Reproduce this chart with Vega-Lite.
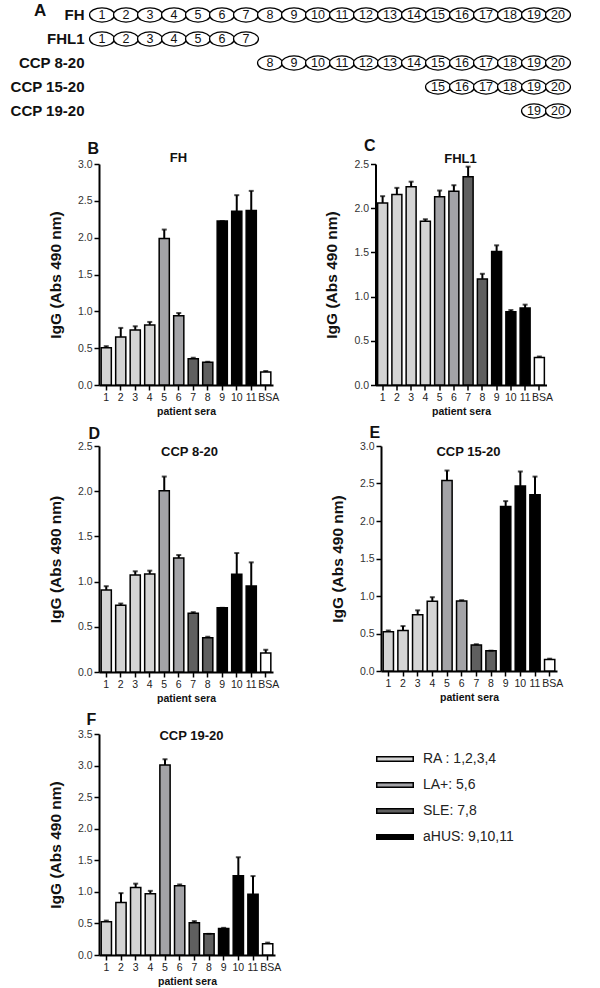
{
  "$schema": "https://vega.github.io/schema/vega-lite/v6.json",
  "padding": {"left": 10, "top": 0, "right": 0, "bottom": 0},
  "spacing": 7,
  "resolve": {"scale": {"color": "independent"}},
  "config": {
    "font": "Liberation Sans",
    "view": {"stroke": null},
    "axisY": {"domainColor": "black", "domainWidth": 2, "tickColor": "black", "tickWidth": 1.5, "tickSize": 5, "labelFont": "Liberation Sans", "labelFontSize": 10.5, "labelColor": "#333", "labelPadding": 2, "minExtent": 24, "maxExtent": 24, "titleFont": "Liberation Sans", "titleFontSize": 15.5, "titleFontWeight": "bold", "titleColor": "#111", "titlePadding": 12, "grid": false},
    "axisBottom": {"domainColor": "black", "domainWidth": 2, "tickColor": "black", "tickWidth": 1.5, "tickSize": 5, "labelFont": "Liberation Sans", "labelFontSize": 10.5, "labelColor": "#222", "labelPadding": 2, "labelAngle": 0, "labelOffset": {"condition": {"test": "datum.label == 'BSA'", "value": 3}, "value": 0}, "titleFont": "Liberation Sans", "titleFontSize": 10.5, "titleFontWeight": "bold", "titleColor": "#111", "titlePadding": 4, "grid": false},
    "axisTop": {"domain": false, "ticks": false, "labels": false, "grid": false, "titleFont": "Liberation Sans", "titleFontWeight": "bold", "titleColor": "#111", "titleBaseline": "alphabetic"}
  },
  "vconcat": [
    {
      "width": 480, "height": 130,
      "data": {"values": [
        {"r": "FH", "n": 1}, {"r": "FH", "n": 2}, {"r": "FH", "n": 3}, {"r": "FH", "n": 4}, {"r": "FH", "n": 5}, {"r": "FH", "n": 6}, {"r": "FH", "n": 7}, {"r": "FH", "n": 8}, {"r": "FH", "n": 9}, {"r": "FH", "n": 10}, {"r": "FH", "n": 11}, {"r": "FH", "n": 12}, {"r": "FH", "n": 13}, {"r": "FH", "n": 14}, {"r": "FH", "n": 15}, {"r": "FH", "n": 16}, {"r": "FH", "n": 17}, {"r": "FH", "n": 18}, {"r": "FH", "n": 19}, {"r": "FH", "n": 20},
        {"r": "FHL1", "n": 1}, {"r": "FHL1", "n": 2}, {"r": "FHL1", "n": 3}, {"r": "FHL1", "n": 4}, {"r": "FHL1", "n": 5}, {"r": "FHL1", "n": 6}, {"r": "FHL1", "n": 7},
        {"r": "CCP 8-20", "n": 8}, {"r": "CCP 8-20", "n": 9}, {"r": "CCP 8-20", "n": 10}, {"r": "CCP 8-20", "n": 11}, {"r": "CCP 8-20", "n": 12}, {"r": "CCP 8-20", "n": 13}, {"r": "CCP 8-20", "n": 14}, {"r": "CCP 8-20", "n": 15}, {"r": "CCP 8-20", "n": 16}, {"r": "CCP 8-20", "n": 17}, {"r": "CCP 8-20", "n": 18}, {"r": "CCP 8-20", "n": 19}, {"r": "CCP 8-20", "n": 20},
        {"r": "CCP 15-20", "n": 15}, {"r": "CCP 15-20", "n": 16}, {"r": "CCP 15-20", "n": 17}, {"r": "CCP 15-20", "n": 18}, {"r": "CCP 15-20", "n": 19}, {"r": "CCP 15-20", "n": 20},
        {"r": "CCP 19-20", "n": 19}, {"r": "CCP 19-20", "n": 20}
      ]},
      "layer": [
        {
          "mark": {"type": "point", "shape": "M-1,0A1,0.57,0,1,0,1,0A1,0.57,0,1,0,-1,0Z", "size": 620, "filled": true, "fill": "white", "stroke": "black", "strokeWidth": 1.3, "opacity": 1},
          "encoding": {
            "x": {"field": "n", "type": "quantitative", "scale": {"domain": [0.875, 20.875], "nice": false, "zero": false}, "axis": null},
            "y": {"field": "r", "type": "ordinal", "scale": {"type": "point", "domain": ["FH", "FHL1", "CCP 8-20", "CCP 15-20", "CCP 19-20"], "padding": 0.708, "align": 0.44}, "axis": null}
          }
        },
        {
          "mark": {"type": "text", "fontSize": 12.5, "baseline": "middle", "dy": 0.5, "color": "#111"},
          "encoding": {
            "x": {"field": "n", "type": "quantitative"},
            "y": {"field": "r", "type": "ordinal"},
            "text": {"field": "n", "type": "quantitative"}
          }
        },
        {
          "data": {"values": [{"r": "FH"}, {"r": "FHL1"}, {"r": "CCP 8-20"}, {"r": "CCP 15-20"}, {"r": "CCP 19-20"}]},
          "mark": {"type": "text", "fontSize": 15, "fontWeight": "bold", "align": "right", "baseline": "middle", "color": "#111"},
          "encoding": {
            "x": {"datum": 0.27},
            "y": {"field": "r", "type": "ordinal"},
            "text": {"field": "r"}
          }
        },
        {
          "data": {"values": [{"t": "A"}]},
          "mark": {"type": "text", "fontSize": 17, "fontWeight": "bold", "align": "left", "baseline": "alphabetic", "dy": 1, "color": "#111"},
          "encoding": {
            "x": {"datum": -1.83},
            "y": {"datum": "FH"},
            "text": {"field": "t"}
          }
        }
      ]
    },
    {
      "spacing": 45.5,
      "resolve": {"scale": {"color": "independent"}},
      "hconcat": [
        {
          "width": 174, "height": 221,
          "data": {"values": [
            {"s": "1", "g": "RA", "v": 0.505, "hi": 0.527}, {"s": "2", "g": "RA", "v": 0.653, "hi": 0.775}, {"s": "3", "g": "RA", "v": 0.748, "hi": 0.797}, {"s": "4", "g": "RA", "v": 0.815, "hi": 0.856},
            {"s": "5", "g": "LA+", "v": 1.99, "hi": 2.11}, {"s": "6", "g": "LA+", "v": 0.94, "hi": 0.977},
            {"s": "7", "g": "SLE", "v": 0.356, "hi": 0.37}, {"s": "8", "g": "SLE", "v": 0.31, "hi": 0.315},
            {"s": "9", "g": "aHUS", "v": 2.225, "hi": 2.225}, {"s": "10", "g": "aHUS", "v": 2.36, "hi": 2.577}, {"s": "11", "g": "aHUS", "v": 2.37, "hi": 2.635},
            {"s": "BSA", "g": "BSA", "v": 0.176, "hi": 0.19}
          ]},
          "resolve": {"axis": {"x": "independent"}},
          "layer": [
            {"mark": {"type": "bar", "stroke": "black", "strokeWidth": 1.5},
             "encoding": {
               "x": {"field": "s", "type": "nominal", "scale": {"domain": ["1","2","3","4","5","6","7","8","9","10","11","BSA"], "paddingInner": 0.3, "paddingOuter": 0.15}, "axis": {"orient": "bottom", "title": "patient sera"}},
               "y": {"field": "v", "type": "quantitative", "scale": {"domain": [0, 3], "nice": false}, "axis": {"title": "IgG (Abs 490 nm)", "values": [0, 0.5, 1, 1.5, 2, 2.5, 3], "format": ".1f"}},
               "color": {"field": "g", "type": "nominal", "scale": {"domain": ["RA","LA+","SLE","aHUS","BSA"], "range": ["#d4d4d4","#a3a3a7","#5f5f5f","#000000","#ffffff"]}, "legend": null}}},
            {"mark": {"type": "rule", "color": "black", "strokeWidth": 2},
             "encoding": {
               "x": {"field": "s", "type": "nominal", "axis": {"orient": "top", "title": "B", "titleX": -12, "titleY": -11, "titleAlign": "left", "titleFontSize": 16}},
               "y": {"field": "v", "type": "quantitative", "axis": {"title": "IgG (Abs 490 nm)", "values": [0, 0.5, 1, 1.5, 2, 2.5, 3], "format": ".1f"}},
               "y2": {"field": "hi"}}},
            {"mark": {"type": "tick", "color": "black", "thickness": 2, "size": 5},
             "encoding": {
               "x": {"field": "s", "type": "nominal", "axis": {"orient": "top", "title": "FH", "titleX": 79, "titleY": -2.3, "titleAlign": "center", "titleFontSize": 13}},
               "y": {"field": "hi", "type": "quantitative", "axis": {"title": "IgG (Abs 490 nm)", "values": [0, 0.5, 1, 1.5, 2, 2.5, 3], "format": ".1f"}}}}
          ]
        },
        {
          "width": 171, "height": 221,
          "data": {"values": [
            {"s": "1", "g": "RA", "v": 2.06, "hi": 2.136}, {"s": "2", "g": "RA", "v": 2.155, "hi": 2.23}, {"s": "3", "g": "RA", "v": 2.242, "hi": 2.3}, {"s": "4", "g": "RA", "v": 1.852, "hi": 1.875},
            {"s": "5", "g": "LA+", "v": 2.129, "hi": 2.2}, {"s": "6", "g": "LA+", "v": 2.193, "hi": 2.26},
            {"s": "7", "g": "SLE", "v": 2.357, "hi": 2.47}, {"s": "8", "g": "SLE", "v": 1.2, "hi": 1.258},
            {"s": "9", "g": "aHUS", "v": 1.511, "hi": 1.58}, {"s": "10", "g": "aHUS", "v": 0.83, "hi": 0.848}, {"s": "11", "g": "aHUS", "v": 0.871, "hi": 0.909},
            {"s": "BSA", "g": "BSA", "v": 0.31, "hi": 0.322}
          ]},
          "resolve": {"axis": {"x": "independent"}},
          "layer": [
            {"mark": {"type": "bar", "stroke": "black", "strokeWidth": 1.5},
             "encoding": {
               "x": {"field": "s", "type": "nominal", "scale": {"domain": ["1","2","3","4","5","6","7","8","9","10","11","BSA"], "paddingInner": 0.3, "paddingOuter": 0.15}, "axis": {"orient": "bottom", "title": "patient sera"}},
               "y": {"field": "v", "type": "quantitative", "scale": {"domain": [0, 2.5], "nice": false}, "axis": {"title": "IgG (Abs 490 nm)", "values": [0, 0.5, 1, 1.5, 2, 2.5], "format": ".1f"}},
               "color": {"field": "g", "type": "nominal", "scale": {"domain": ["RA","LA+","SLE","aHUS","BSA"], "range": ["#d4d4d4","#a3a3a7","#5f5f5f","#000000","#ffffff"]}, "legend": null}}},
            {"mark": {"type": "rule", "color": "black", "strokeWidth": 2},
             "encoding": {
               "x": {"field": "s", "type": "nominal", "axis": {"orient": "top", "title": "C", "titleX": -12, "titleY": -14, "titleAlign": "left", "titleFontSize": 16}},
               "y": {"field": "v", "type": "quantitative", "axis": {"title": "IgG (Abs 490 nm)", "values": [0, 0.5, 1, 1.5, 2, 2.5], "format": ".1f"}},
               "y2": {"field": "hi"}}},
            {"mark": {"type": "tick", "color": "black", "thickness": 2, "size": 5},
             "encoding": {
               "x": {"field": "s", "type": "nominal", "axis": {"orient": "top", "title": "FHL1", "titleX": 84.5, "titleY": -2, "titleAlign": "center", "titleFontSize": 13}},
               "y": {"field": "hi", "type": "quantitative", "axis": {"title": "IgG (Abs 490 nm)", "values": [0, 0.5, 1, 1.5, 2, 2.5], "format": ".1f"}}}}
          ]
        }
      ]
    },
    {
      "spacing": 51,
      "resolve": {"scale": {"color": "independent"}},
      "hconcat": [
        {
          "width": 174, "height": 226,
          "data": {"values": [
            {"s": "1", "g": "RA", "v": 0.908, "hi": 0.949}, {"s": "2", "g": "RA", "v": 0.739, "hi": 0.757}, {"s": "3", "g": "RA", "v": 1.074, "hi": 1.114}, {"s": "4", "g": "RA", "v": 1.085, "hi": 1.121},
            {"s": "5", "g": "LA+", "v": 2.004, "hi": 2.162}, {"s": "6", "g": "LA+", "v": 1.261, "hi": 1.294},
            {"s": "7", "g": "SLE", "v": 0.651, "hi": 0.662}, {"s": "8", "g": "SLE", "v": 0.379, "hi": 0.39},
            {"s": "9", "g": "aHUS", "v": 0.71, "hi": 0.71}, {"s": "10", "g": "aHUS", "v": 1.081, "hi": 1.316}, {"s": "11", "g": "aHUS", "v": 0.952, "hi": 1.213},
            {"s": "BSA", "g": "BSA", "v": 0.21, "hi": 0.246}
          ]},
          "resolve": {"axis": {"x": "independent"}},
          "layer": [
            {"mark": {"type": "bar", "stroke": "black", "strokeWidth": 1.5},
             "encoding": {
               "x": {"field": "s", "type": "nominal", "scale": {"domain": ["1","2","3","4","5","6","7","8","9","10","11","BSA"], "paddingInner": 0.3, "paddingOuter": 0.15}, "axis": {"orient": "bottom", "title": "patient sera"}},
               "y": {"field": "v", "type": "quantitative", "scale": {"domain": [0, 2.5], "nice": false}, "axis": {"title": "IgG (Abs 490 nm)", "values": [0, 0.5, 1, 1.5, 2, 2.5], "format": ".1f"}},
               "color": {"field": "g", "type": "nominal", "scale": {"domain": ["RA","LA+","SLE","aHUS","BSA"], "range": ["#d4d4d4","#a3a3a7","#5f5f5f","#000000","#ffffff"]}, "legend": null}}},
            {"mark": {"type": "rule", "color": "black", "strokeWidth": 2},
             "encoding": {
               "x": {"field": "s", "type": "nominal", "axis": {"orient": "top", "title": "D", "titleX": -11, "titleY": -8, "titleAlign": "left", "titleFontSize": 16}},
               "y": {"field": "v", "type": "quantitative", "axis": {"title": "IgG (Abs 490 nm)", "values": [0, 0.5, 1, 1.5, 2, 2.5], "format": ".1f"}},
               "y2": {"field": "hi"}}},
            {"mark": {"type": "tick", "color": "black", "thickness": 2, "size": 5},
             "encoding": {
               "x": {"field": "s", "type": "nominal", "axis": {"orient": "top", "title": "CCP 8-20", "titleX": 90, "titleY": 9, "titleAlign": "center", "titleFontSize": 13}},
               "y": {"field": "hi", "type": "quantitative", "axis": {"title": "IgG (Abs 490 nm)", "values": [0, 0.5, 1, 1.5, 2, 2.5], "format": ".1f"}}}}
          ]
        },
        {
          "width": 176, "height": 225,
          "data": {"values": [
            {"s": "1", "g": "RA", "v": 0.522, "hi": 0.54}, {"s": "2", "g": "RA", "v": 0.54, "hi": 0.599}, {"s": "3", "g": "RA", "v": 0.751, "hi": 0.809}, {"s": "4", "g": "RA", "v": 0.93, "hi": 0.984},
            {"s": "5", "g": "LA+", "v": 2.539, "hi": 2.673}, {"s": "6", "g": "LA+", "v": 0.935, "hi": 0.944},
            {"s": "7", "g": "SLE", "v": 0.348, "hi": 0.357}, {"s": "8", "g": "SLE", "v": 0.271, "hi": 0.271},
            {"s": "9", "g": "aHUS", "v": 2.194, "hi": 2.265}, {"s": "10", "g": "aHUS", "v": 2.467, "hi": 2.66}, {"s": "11", "g": "aHUS", "v": 2.35, "hi": 2.592},
            {"s": "BSA", "g": "BSA", "v": 0.155, "hi": 0.164}
          ]},
          "resolve": {"axis": {"x": "independent"}},
          "layer": [
            {"mark": {"type": "bar", "stroke": "black", "strokeWidth": 1.5},
             "encoding": {
               "x": {"field": "s", "type": "nominal", "scale": {"domain": ["1","2","3","4","5","6","7","8","9","10","11","BSA"], "paddingInner": 0.3, "paddingOuter": 0.15}, "axis": {"orient": "bottom", "title": "patient sera"}},
               "y": {"field": "v", "type": "quantitative", "scale": {"domain": [0, 3], "nice": false}, "axis": {"title": "IgG (Abs 490 nm)", "values": [0, 0.5, 1, 1.5, 2, 2.5, 3], "format": ".1f"}},
               "color": {"field": "g", "type": "nominal", "scale": {"domain": ["RA","LA+","SLE","aHUS","BSA"], "range": ["#d4d4d4","#a3a3a7","#5f5f5f","#000000","#ffffff"]}, "legend": null}}},
            {"mark": {"type": "rule", "color": "black", "strokeWidth": 2},
             "encoding": {
               "x": {"field": "s", "type": "nominal", "axis": {"orient": "top", "title": "E", "titleX": -12, "titleY": -8.5, "titleAlign": "left", "titleFontSize": 16}},
               "y": {"field": "v", "type": "quantitative", "axis": {"title": "IgG (Abs 490 nm)", "values": [0, 0.5, 1, 1.5, 2, 2.5, 3], "format": ".1f"}},
               "y2": {"field": "hi"}}},
            {"mark": {"type": "tick", "color": "black", "thickness": 2, "size": 5},
             "encoding": {
               "x": {"field": "s", "type": "nominal", "axis": {"orient": "top", "title": "CCP 15-20", "titleX": 87, "titleY": 9.5, "titleAlign": "center", "titleFontSize": 13}},
               "y": {"field": "hi", "type": "quantitative", "axis": {"title": "IgG (Abs 490 nm)", "values": [0, 0.5, 1, 1.5, 2, 2.5, 3], "format": ".1f"}}}}
          ]
        }
      ]
    },
    {
      "resolve": {"scale": {"color": "independent"}},
      "hconcat": [
        {
          "width": 176, "height": 221,
          "data": {"values": [
            {"s": "1", "g": "RA", "v": 0.525, "hi": 0.545}, {"s": "2", "g": "RA", "v": 0.83, "hi": 0.98}, {"s": "3", "g": "RA", "v": 1.069, "hi": 1.13}, {"s": "4", "g": "RA", "v": 0.97, "hi": 1.016},
            {"s": "5", "g": "LA+", "v": 3.01, "hi": 3.1}, {"s": "6", "g": "LA+", "v": 1.096, "hi": 1.117},
            {"s": "7", "g": "SLE", "v": 0.51, "hi": 0.537}, {"s": "8", "g": "SLE", "v": 0.335, "hi": 0.335},
            {"s": "9", "g": "aHUS", "v": 0.42, "hi": 0.43}, {"s": "10", "g": "aHUS", "v": 1.255, "hi": 1.548}, {"s": "11", "g": "aHUS", "v": 0.963, "hi": 1.25},
            {"s": "BSA", "g": "BSA", "v": 0.18, "hi": 0.196}
          ]},
          "resolve": {"axis": {"x": "independent"}},
          "layer": [
            {"mark": {"type": "bar", "stroke": "black", "strokeWidth": 1.5},
             "encoding": {
               "x": {"field": "s", "type": "nominal", "scale": {"domain": ["1","2","3","4","5","6","7","8","9","10","11","BSA"], "paddingInner": 0.3, "paddingOuter": 0.15}, "axis": {"orient": "bottom", "title": "patient sera"}},
               "y": {"field": "v", "type": "quantitative", "scale": {"domain": [0, 3.5], "nice": false}, "axis": {"title": "IgG (Abs 490 nm)", "values": [0, 0.5, 1, 1.5, 2, 2.5, 3, 3.5], "format": ".1f"}},
               "color": {"field": "g", "type": "nominal", "scale": {"domain": ["RA","LA+","SLE","aHUS","BSA"], "range": ["#d4d4d4","#a3a3a7","#5f5f5f","#000000","#ffffff"]},
                 "legend": {"orient": "none", "legendX": 277, "legendY": 6, "values": ["RA","LA+","SLE","aHUS"], "title": null, "symbolType": "M-1,-0.12H1V0.12H-1Z", "symbolSize": 1332, "symbolStrokeColor": "black", "symbolStrokeWidth": 1.5, "symbolOpacity": 1, "labelExpr": "datum.label == 'RA' ? 'RA : 1,2,3,4' : datum.label == 'LA+' ? 'LA+:  5,6' : datum.label == 'SLE' ? 'SLE: 7,8' : 'aHUS: 9,10,11'", "labelFont": "Liberation Sans", "labelFontSize": 14, "labelColor": "#222", "labelOffset": 9, "rowPadding": 0, "padding": 0}}}},
            {"mark": {"type": "rule", "color": "black", "strokeWidth": 2},
             "encoding": {
               "x": {"field": "s", "type": "nominal", "axis": {"orient": "top", "title": "F", "titleX": -13, "titleY": -10, "titleAlign": "left", "titleFontSize": 16}},
               "y": {"field": "v", "type": "quantitative", "axis": {"title": "IgG (Abs 490 nm)", "values": [0, 0.5, 1, 1.5, 2, 2.5, 3, 3.5], "format": ".1f"}},
               "y2": {"field": "hi"}}},
            {"mark": {"type": "tick", "color": "black", "thickness": 2, "size": 5},
             "encoding": {
               "x": {"field": "s", "type": "nominal", "axis": {"orient": "top", "title": "CCP 19-20", "titleX": 92, "titleY": 5, "titleAlign": "center", "titleFontSize": 13}},
               "y": {"field": "hi", "type": "quantitative", "axis": {"title": "IgG (Abs 490 nm)", "values": [0, 0.5, 1, 1.5, 2, 2.5, 3, 3.5], "format": ".1f"}}}}
          ]
        }
      ]
    }
  ]
}
